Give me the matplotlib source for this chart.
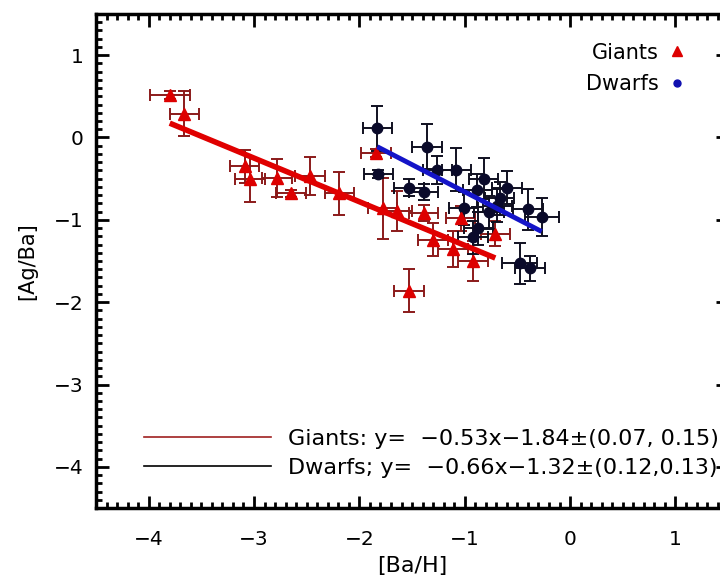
import matplotlib
matplotlib.use("Agg")
import matplotlib.pyplot as plt
from matplotlib.lines import Line2D
from matplotlib.ticker import MultipleLocator

# Giants: [Ba/H], [Ag/Ba] and their uncertainties
giants_x = [-3.80, -3.66, -3.09, -3.04, -2.78, -2.65, -2.47, -2.19, -1.78, -1.64,
            -1.84, -1.39, -1.30, -1.11, -1.04, -0.92, -0.71, -1.53]
giants_y = [0.52, 0.29, -0.35, -0.51, -0.49, -0.68, -0.47, -0.68, -0.86, -0.89,
            -0.19, -0.92, -1.24, -1.35, -0.98, -1.50, -1.17, -1.86]
giants_xerr = [0.19, 0.14, 0.14, 0.14, 0.14, 0.14, 0.14, 0.14, 0.14, 0.14,
               0.14, 0.14, 0.14, 0.14, 0.14, 0.14, 0.14, 0.14]
giants_yerr = [0.05, 0.27, 0.20, 0.27, 0.23, 0.04, 0.23, 0.26, 0.37, 0.24,
               0.05, 0.10, 0.20, 0.22, 0.15, 0.24, 0.15, 0.26]

# Dwarfs
dwarfs_x = [-1.83, -1.82, -1.36, -1.26, -1.53, -1.39, -1.08, -0.82, -0.60, -0.88,
            -0.40, -0.27, -0.48, -0.38, -1.01, -0.92, -0.67, -0.77, -0.87, -0.69]
dwarfs_y = [0.11, -0.44, -0.11, -0.40, -0.61, -0.66, -0.39, -0.50, -0.61, -0.64,
            -0.87, -0.97, -1.53, -1.59, -0.86, -1.21, -0.74, -0.91, -1.10, -0.83]
dwarfs_xerr = [0.14, 0.14, 0.14, 0.14, 0.14, 0.14, 0.14, 0.14, 0.14, 0.14,
               0.14, 0.16, 0.17, 0.14, 0.14, 0.14, 0.14, 0.14, 0.14, 0.14]
dwarfs_yerr = [0.27, 0.05, 0.27, 0.17, 0.10, 0.10, 0.26, 0.25, 0.20, 0.20,
               0.25, 0.23, 0.25, 0.15, 0.20, 0.20, 0.20, 0.20, 0.20, 0.20]

# Linear fits: slope, intercept and the x-range they span
giants_fit = (-0.53, -1.84)
giants_fit_range = (-3.80, -0.71)
dwarfs_fit = (-0.66, -1.32)
dwarfs_fit_range = (-1.83, -0.27)

giants_label = "Giants: y=  \u22120.53x\u22121.84\u00b1(0.07, 0.15)"
dwarfs_label = "Dwarfs; y=  \u22120.66x\u22121.32\u00b1(0.12,0.13)"

plt.rcParams['font.family'] = ['DejaVu Sans']

fig = plt.figure(figsize=(7.2, 5.8), dpi=100)
ax = fig.add_axes([0.1333, 0.1241, 0.878, 0.8518])

# error bars and markers
ax.errorbar(giants_x, giants_y, xerr=giants_xerr, yerr=giants_yerr, fmt='none',
            ecolor='#8b1a1a', elinewidth=1.4, capsize=4, capthick=1.4, zorder=2)
ax.errorbar(dwarfs_x, dwarfs_y, xerr=dwarfs_xerr, yerr=dwarfs_yerr, fmt='none',
            ecolor='#101020', elinewidth=1.4, capsize=4, capthick=1.4, zorder=2)
ax.plot(giants_x, giants_y, linestyle='none', marker='^', markersize=8,
        color='#dd0000', zorder=4)
ax.plot(dwarfs_x, dwarfs_y, linestyle='none', marker='o', markersize=7.5,
        color='#0a0a2a', zorder=3)

# fit lines
for (m, b), (x0, x1), col, lw in [(giants_fit, giants_fit_range, '#e00000', 4.0),
                                   (dwarfs_fit, dwarfs_fit_range, '#1414c8', 3.5)]:
    ax.plot([x0, x1], [m * x0 + b, m * x1 + b], color=col, linewidth=lw,
            solid_capstyle='butt', zorder=5)

ax.set_xlim(-4.5, 1.5)
ax.set_ylim(-4.5, 1.5)
ax.xaxis.set_major_locator(MultipleLocator(1))
ax.yaxis.set_major_locator(MultipleLocator(1))
ax.xaxis.set_minor_locator(MultipleLocator(0.1))
ax.yaxis.set_minor_locator(MultipleLocator(0.1))
ax.tick_params(which='both', direction='in', top=True, right=True, width=2.0,
               labelsize=14.5, color='black')
ax.tick_params(which='major', length=9)
ax.tick_params(which='minor', length=4.5)
ax.tick_params(axis='x', which='major', pad=16)
ax.tick_params(axis='y', which='major', pad=9)
for sp in ax.spines.values():
    sp.set_linewidth(2.5)

ax.set_xlabel('[Ba/H]', fontsize=16, labelpad=5)
ax.set_ylabel('[Ag/Ba]', fontsize=15, labelpad=12)

# symbol key, top right
key_handles = [Line2D([], [], linestyle='none', marker='^', markersize=7, color='#dd0000'),
               Line2D([], [], linestyle='none', marker='o', markersize=5, color='#1010b0')]
key = ax.legend(key_handles, ['Giants', 'Dwarfs'], loc='upper right',
                bbox_to_anchor=(0.962, 0.98), markerfirst=False, frameon=False,
                fontsize=15, handlelength=0.8, handletextpad=0.5, labelspacing=0.55)
ax.add_artist(key)

# fit key, bottom
fit_handles = [Line2D([], [], color='#a02020', linewidth=1.2),
               Line2D([], [], color='black', linewidth=1.2)]
ax.legend(fit_handles, [giants_label, dwarfs_label], loc='lower left',
          bbox_to_anchor=(0.045, 0.02), frameon=False, fontsize=16,
          handlelength=5.7, handletextpad=0.75, labelspacing=0.4)

fig.savefig('out.png', dpi=100)
